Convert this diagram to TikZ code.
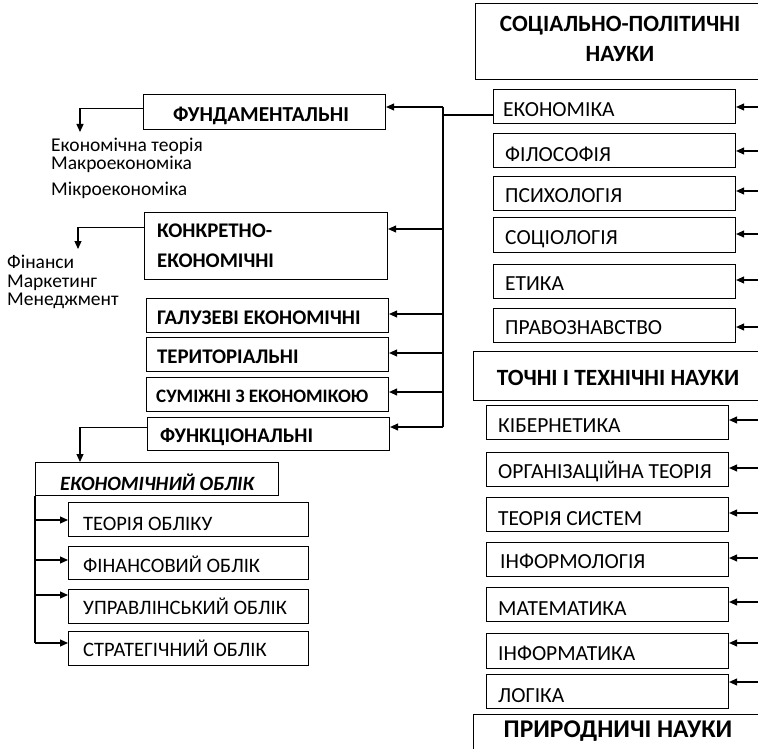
\documentclass[tikz,border=0pt]{standalone}
\usepackage{fontspec}
\setmainfont{Carlito}
\usetikzlibrary{arrows.meta}

\tikzset{
  box/.style={draw, line width=1.1pt, inner sep=0pt, anchor=north west},
  txt/.style={inner sep=0pt, anchor=base west, font=\fontsize{21.5}{24}\selectfont},
  otxt/.style={inner sep=0pt, anchor=base west, font=\fontsize{20.5}{24}\selectfont},
  btxt/.style={inner sep=0pt, anchor=base west, font=\fontsize{20.8}{24}\selectfont\bfseries},
  head/.style={inner sep=0pt, anchor=base, font=\fontsize{23.3}{26}\selectfont\bfseries},
  plain/.style={inner sep=0pt, anchor=base west, font=\fontsize{19.5}{21}\selectfont},
  conn/.style={line width=1.1pt},
  arr/.style={line width=1.1pt, -{Triangle[length=8pt,width=7pt]}},
}
% rectangle node from its top-left and bottom-right corners
\newcommand\mkbox[5]{\node[box, minimum width={#4-#2}, minimum height={#5-#3}] (#1) at (#2,#3) {};}

\begin{document}
\begin{tikzpicture}[x=1pt, y=-1pt]
\useasboundingbox (0,0) rectangle (758,749);
\clip (0,0) rectangle (758,749);

% ---------- right column: group headers ----------
\mkbox{soc}{475}{3}{800}{79}
\node[head] (soc1) at (620,32) {СОЦІАЛЬНО-ПОЛІТИЧНІ};
\node[head] (soc2) at (620,62) {НАУКИ};

\mkbox{toch}{473}{351}{800}{400}
\node[head] (toch1) at (618,385) {ТОЧНІ І ТЕХНІЧНІ НАУКИ};

\mkbox{pryr}{473}{714}{800}{770}
\node[head, font=\fontsize{25.5}{28}\selectfont\bfseries] (pryr1) at (618,737) {ПРИРОДНИЧІ НАУКИ};

% ---------- social and political sciences ----------
\mkbox{eco}{493}{89}{735}{123}
\node[txt] (eco-t) at (503,117) {ЕКОНОМІКА};
\mkbox{fil}{493}{133}{735}{167}
\node[txt] (fil-t) at (505,161) {ФІЛОСОФІЯ};
\mkbox{psy}{493}{176}{735}{210}
\node[txt] (psy-t) at (505,203) {ПСИХОЛОГІЯ};
\mkbox{soci}{493}{217}{735}{252}
\node[txt] (soci-t) at (505,244) {СОЦІОЛОГІЯ};
\mkbox{eth}{493}{264}{735}{298}
\node[txt] (eth-t) at (505,290) {ЕТИКА};
\mkbox{law}{493}{308}{735}{342}
\node[txt] (law-t) at (505,334) {ПРАВОЗНАВСТВО};

% ---------- exact and technical sciences ----------
\mkbox{cyb}{486}{405}{728}{439}
\node[txt] (cyb-t) at (498,432) {КІБЕРНЕТИКА};
\mkbox{org}{486}{452}{728}{486}
\node[txt] (org-t) at (498,478) {ОРГАНІЗАЦІЙНА ТЕОРІЯ};
\mkbox{sys}{486}{497}{728}{531}
\node[txt] (sys-t) at (498,525) {ТЕОРІЯ СИСТЕМ};
\mkbox{infl}{486}{542}{728}{576}
\node[txt] (infl-t) at (500,568) {ІНФОРМОЛОГІЯ};
\mkbox{math}{486}{587}{728}{621}
\node[txt] (math-t) at (498,615) {МАТЕМАТИКА};
\mkbox{infa}{486}{633}{728}{668}
\node[txt] (infa-t) at (498,660) {ІНФОРМАТИКА};
\mkbox{log}{486}{674}{728}{708}
\node[txt] (log-t) at (498,702) {ЛОГІКА};

% incoming arrows from the right edge
\foreach \n/\yy in {eco/107, fil/151, psy/191, soci/234, eth/280, law/327,
                    cyb/420, org/468, sys/513, infl/558, math/602, infa/643, log/682}{
  \coordinate (in-\n) at (770,\yy);
  \draw[arr] (in-\n) -- (in-\n -| \n.east);
}

% ---------- economic sciences ----------
\mkbox{fund}{143}{94}{385}{129}
\node[btxt, anchor=base, font=\fontsize{21.3}{24}\selectfont\bfseries] (fund-t) at (261,122) {ФУНДАМЕНТАЛЬНІ};
\mkbox{konk}{144}{212}{387}{279}
\node[btxt] (konk-t1) at (157,237) {КОНКРЕТНО-};
\node[btxt] (konk-t2) at (157,267) {ЕКОНОМІЧНІ};
\mkbox{galz}{146}{298}{388}{332}
\node[btxt] (galz-t) at (157,324) {ГАЛУЗЕВІ ЕКОНОМІЧНІ};
\mkbox{ter}{146}{337}{388}{371}
\node[btxt] (ter-t) at (157,363) {ТЕРИТОРІАЛЬНІ};
\mkbox{sum}{146}{377}{388}{411}
\node[btxt, font=\fontsize{19}{22}\selectfont\bfseries] (sum-t) at (156,402) {СУМІЖНІ З ЕКОНОМІКОЮ};
\mkbox{func}{147}{417}{389}{450}
\node[btxt] (func-t) at (160,442) {ФУНКЦІОНАЛЬНІ};

% trunk from economics to its branches
\coordinate (tr-eco) at (443,115);
\draw[conn] (tr-eco) -- (tr-eco -| eco.west);
\coordinate (tr-top) at (443,107);
\coordinate (tr-bot) at (443,427);
\draw[conn] (tr-top) -- (tr-bot);
\foreach \n/\yy in {fund/107, konk/229, galz/314, ter/353, sum/392, func/427}{
  \coordinate (tr-\n) at (443,\yy);
  \draw[arr] (tr-\n) -- (tr-\n -| \n.east);
}

% examples of fundamental sciences
\coordinate (fund-d) at (80,132);
\draw[arr] ([yshift=3.5pt]fund.west) -| (fund-d);
\node[plain] (ex1) at (51,152) {Економічна теорія};
\node[plain] (ex2) at (51,170) {Макроекономіка};
\node[plain] (ex3) at (51,195) {Мікроекономіка};

% examples of concrete economic sciences
\coordinate (konk-d) at (78,249);
\draw[arr] ([yshift=18.5pt]konk.west) -| (konk-d);
\node[plain] (ex4) at (7,268) {Фінанси};
\node[plain] (ex5) at (7,287) {Маркетинг};
\node[plain] (ex6) at (7,305) {Менеджмент};

% ---------- economic accounting ----------
\mkbox{ekob}{35}{462}{278}{495}
\node[btxt, font=\fontsize{20.3}{22}\selectfont\bfseries\itshape] (ekob-t) at (60,490) {ЕКОНОМІЧНИЙ ОБЛІК};
\coordinate (func-d) at (80,462);
\draw[arr] ([yshift=6.5pt]func.west) -| (func-d);

\mkbox{teor}{68}{502}{308}{536}
\node[otxt] (teor-t) at (83,530) {ТЕОРІЯ ОБЛІКУ};
\mkbox{fin}{68}{546}{308}{579}
\node[otxt] (fin-t) at (83,572) {ФІНАНСОВИЙ ОБЛІК};
\mkbox{upr}{68}{589}{308}{623}
\node[otxt] (upr-t) at (83,614) {УПРАВЛІНСЬКИЙ ОБЛІК};
\mkbox{str}{68}{631}{308}{665}
\node[otxt] (str-t) at (83,656) {СТРАТЕГІЧНИЙ ОБЛІК};

\coordinate (ob-end) at (35,643);
\draw[conn] (ekob.south west) -- (ob-end);
\foreach \n/\yy in {teor/520, fin/560, upr/595, str/643}{
  \coordinate (ob-\n) at (35,\yy);
  \draw[arr] (ob-\n) -- (ob-\n -| \n.west);
}
\end{tikzpicture}
\end{document}
